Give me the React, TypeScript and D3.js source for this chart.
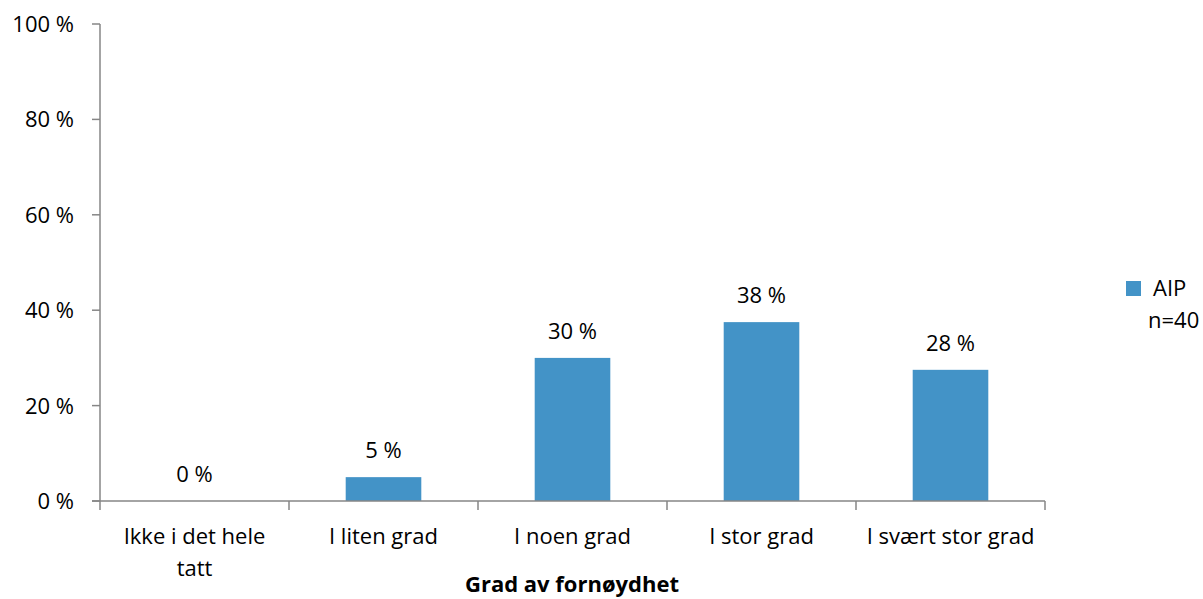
import React from "react";
import * as d3 from "d3";

// Share of respondents per satisfaction level (n = 40)
const categories: string[][] = [
  ["Ikke i det hele", "tatt"],
  ["I liten grad"],
  ["I noen grad"],
  ["I stor grad"],
  ["I svært stor grad"],
];
const values: number[] = [0, 5, 30, 37.5, 27.5];
const yTicks: number[] = [0, 20, 40, 60, 80, 100];
const seriesName = "AIP";
const sampleNote = "n=40";
const axisTitle = "Grad av fornøydhet";

const W = 1203;
const H = 599;
const FONT = "'Open Sans', sans-serif";
const FS = 22;
const BAR = "#4393c7";
const AXIS = "#868686";

export default function App() {
  const left = 100;
  const right = 1045;
  const top = 24;
  const bottom = 501;

  const keys = categories.map((_, i) => String(i));
  const x = d3.scaleBand<string>().domain(keys).range([left, right]).paddingInner(0.6).paddingOuter(0.3);
  const band = d3.scaleBand<string>().domain(keys).range([left, right]);
  const y = d3.scaleLinear().domain([0, 100]).range([bottom, top]);
  const fmt = (v: number) => `${Math.round(v)} %`;

  return (
    <svg width={W} height={H} style={{ position: "absolute", left: 0, top: 0, background: "#fff" }} fontFamily={FONT}>
      {/* bars */}
      {values.map((v, i) => (
        <rect key={i} x={x(keys[i])} y={y(v)} width={x.bandwidth()} height={bottom - y(v)} fill={BAR} />
      ))}
      {/* value labels */}
      {values.map((v, i) => (
        <text key={i} x={x(keys[i])! + x.bandwidth() / 2} y={y(v) - 19} textAnchor="middle" fontSize={FS} fill="#000">
          {fmt(v)}
        </text>
      ))}
      {/* y axis */}
      <line x1={left} x2={left} y1={top} y2={bottom} stroke={AXIS} strokeWidth={1.5} />
      {yTicks.map((t) => (
        <g key={t}>
          <line x1={left - 8} x2={left} y1={y(t)} y2={y(t)} stroke={AXIS} strokeWidth={1.5} />
          <text x={left - 26} y={y(t) + 8} textAnchor="end" fontSize={FS} fill="#000">
            {`${t} %`}
          </text>
        </g>
      ))}
      {/* x axis */}
      <line x1={left - 8} x2={right} y1={bottom} y2={bottom} stroke={AXIS} strokeWidth={1.5} />
      {[...keys.map((k) => band(k)!), right].map((px, i) => (
        <line key={i} x1={px} x2={px} y1={bottom} y2={bottom + 9} stroke={AXIS} strokeWidth={1.5} />
      ))}
      {categories.map((lines, i) => (
        <text key={i} x={band(keys[i])! + band.bandwidth() / 2} y={544} textAnchor="middle" fontSize={FS} fill="#000">
          {lines.map((l, j) => (
            <tspan key={j} x={band(keys[i])! + band.bandwidth() / 2} dy={j === 0 ? 0 : 32}>
              {l}
            </tspan>
          ))}
        </text>
      ))}
      <text x={572} y={592} textAnchor="middle" fontSize={22} fontWeight="bold" fill="#000">
        {axisTitle}
      </text>
      {/* legend */}
      <rect x={1126} y={281} width={15} height={15} fill={BAR} />
      <text x={1153} y={296} fontSize={FS} fill="#000">{seriesName}</text>
      <text x={1148} y={328} fontSize={FS} fill="#000">{sampleNote}</text>
    </svg>
  );
}
